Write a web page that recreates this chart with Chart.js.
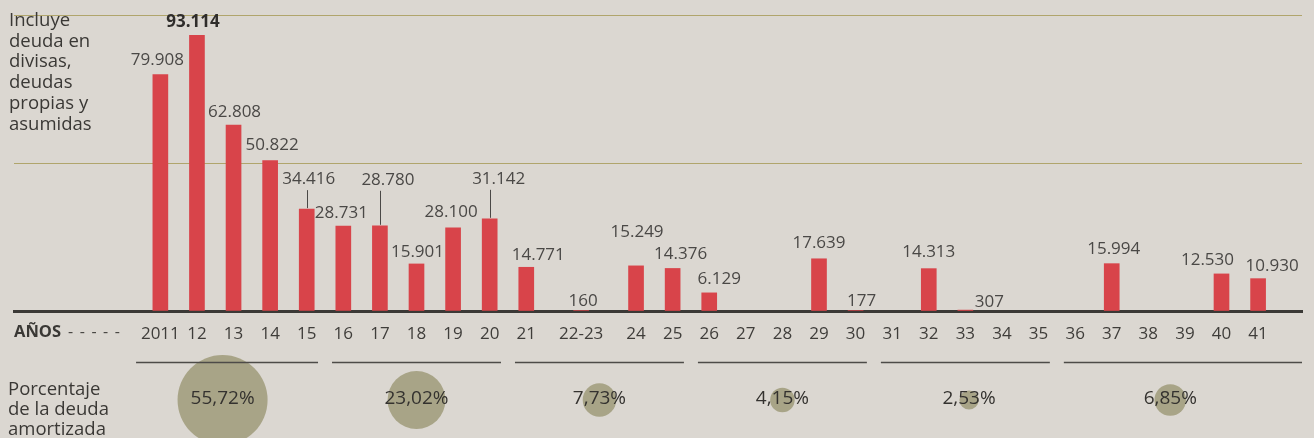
<!DOCTYPE html>
<html>
<head>
<meta charset="utf-8">
<script src="https://cdn.jsdelivr.net/npm/chart.js@4"></script>
<style>
  html, body { margin:0; padding:0; width:1314px; height:438px; overflow:hidden; background:#dbd7d1; }
  #wrap { position:relative; width:1314px; height:438px; overflow:hidden; }
  canvas { position:absolute; left:0; }
  #cBars { top:0; }
  #cBubbles { top:350px; }
  .note { position:absolute; font-family:'Open Sans', 'Noto Sans', sans-serif; color:#3a3835; white-space:nowrap; }
  #noteTop { left:9px; top:9px; font-size:18.5px; line-height:20.7px; }
  #noteBottom { left:8px; top:378px; font-size:18.5px; line-height:20px; }
  #anos { left:14px; top:321px; font-size:16.5px; font-weight:700; line-height:20px; }
  #dashes { left:68px; top:321px; font-size:16px; line-height:20px; letter-spacing:1.2px; color:#4a4845; }
</style>
</head>
<body>
<div id="wrap">
  <canvas id="cBars" width="1314" height="352"></canvas>
  <canvas id="cBubbles" width="1314" height="100"></canvas>
  <div class="note" id="noteTop">Incluye<br>deuda en<br>divisas,<br>deudas<br>propias y<br>asumidas</div>
  <div class="note" id="anos">AÑOS</div>
  <div class="note" id="dashes">- - - - -</div>
  <div class="note" id="noteBottom">Porcentaje<br>de la deuda<br>amortizada</div>
</div>
<script>
// ---- data ----
const tickYears = [2011,2012,2013,2014,2015,2016,2017,2018,2019,2020,2021,2022.5,2024,2025,2026,2027,2028,2029,2030,2031,2032,2033,2034,2035,2036,2037,2038,2039,2040,2041];
const tickLabels = ['2011','12','13','14','15','16','17','18','19','20','21','22-23','24','25','26','27','28','29','30','31','32','33','34','35','36','37','38','39','40','41'];
const debtValues = [79908,93114,62808,50822,34416,28731,28780,15901,28100,31142,14771,160,15249,14376,6129,null,null,17639,177,null,14313,307,null,null,null,15994,null,null,12530,10930];
const highlightIndex = 1;

const groupFrom = [2011,2016,2021,2026,2031,2036];
const groupTo   = [2015,2020,2025,2030,2035,2041];
const groupPct  = [55.72,23.02,7.73,4.15,2.53,6.85];
const bubbleYear = [2012.7,2018,2023,2028,2033.1,2038.6];

// ---- layout (label nudges relative to bar top: dx, dy, leader line) ----
const labelNudge = [[-3,-14],[-4,-13],[1,-13],[2,-15],[2,-30,1],[-2,-13],[8,-46,1],[1,-12],[-2,-16],[9,-40,1],[12,-12],[2,-9],[1,-34],[8,-14],[10,-14],null,null,[0,-16],[6,-9],null,[0,-16],[24,-8],null,null,null,[2,-15],null,null,[-14,-14],[14,-12]];

const X_MIN = 2007, X_MAX = 2042.2;
const FONT = "'Open Sans', 'Noto Sans', sans-serif";

function fmt(n){ return String(n).replace(/\B(?=(\d{3})+(?!\d))/g, '.'); }

const barLabels = {
  id:'barLabels',
  afterDatasetsDraw(chart){
    const ctx = chart.ctx;
    const meta = chart.getDatasetMeta(0);
    ctx.save();
    ctx.textAlign = 'center';
    ctx.textBaseline = 'middle';
    debtValues.forEach((v,i)=>{
      if (v === null) return;
      const el = meta.data[i];
      const n = labelNudge[i] || [0,-14];
      const x = el.x + n[0], y = el.y + n[1];
      ctx.fillStyle = i === highlightIndex ? '#2f2d2b' : '#4a4846';
      ctx.font = (i === highlightIndex ? '700 ' : '400 ') + '17px ' + FONT;
      ctx.fillText(fmt(v), x, y);
      if (n[2]) {
        ctx.strokeStyle = '#4a4846';
        ctx.lineWidth = 1;
        ctx.beginPath();
        ctx.moveTo(Math.round(el.x)+0.5, y + 11);
        ctx.lineTo(Math.round(el.x)+0.5, el.y - 1);
        ctx.stroke();
      }
    });
    ctx.restore();
  }
};

new Chart(document.getElementById('cBars'), {
  type:'bar',
  data:{ datasets:[{
    data: tickYears.map((x,i)=>({x, y: debtValues[i]})),
    backgroundColor:'#d8444a',
    barThickness:15,
    borderWidth:0
  }]},
  options:{
    responsive:false, animation:false, devicePixelRatio:1,
    layout:{ autoPadding:false, padding:{ left:14, right:12, top:15, bottom:0 } },
    plugins:{ legend:{display:false}, tooltip:{enabled:false} },
    scales:{
      x:{
        type:'linear', min:X_MIN, max:X_MAX, offset:false, z:1,
        afterBuildTicks: s => { s.ticks = tickYears.map(v=>({value:v})); },
        afterFit: s => { s.height = 41; },
        ticks:{ autoSkip:false, maxRotation:0, minRotation:0, padding:13,
          callback:(v,i)=>tickLabels[i], color:'#3f3d3a', font:{ family:FONT, size:17 } },
        grid:{ display:false, drawTicks:false, offset:false },
        border:{ display:true, color:'#3b3936', width:3 }
      },
      y:{
        min:0, max:100000,
        afterFit: s => { s.width = 0; },
        ticks:{ display:false, stepSize:50000 },
        grid:{ drawTicks:false,
          color: c => c.tick && c.tick.value === 0 ? 'rgba(0,0,0,0)' : '#b0a56c',
          lineWidth: 1 },
        border:{ display:false }
      }
    }
  },
  plugins:[barLabels]
});

const groupDecor = {
  id:'groupDecor',
  afterDatasetsDraw(chart){
    const ctx = chart.ctx, xs = chart.scales.x;
    const meta = chart.getDatasetMeta(0);
    ctx.save();
    ctx.strokeStyle = '#4d4b48';
    ctx.lineWidth = 1.5;
    groupFrom.forEach((f,i)=>{
      const last = i === groupFrom.length-1;
      const x1 = i === 0 ? xs.getPixelForValue(f-0.5) - 6 : xs.getPixelForValue(f-0.5) + 7;
      const x2 = last ? chart.chartArea.right : xs.getPixelForValue(groupTo[i]+0.5) - 7;
      ctx.beginPath();
      ctx.moveTo(x1, 12.5);
      ctx.lineTo(x2, 12.5);
      ctx.stroke();
    });
    ctx.fillStyle = '#34322f';
    ctx.textAlign = 'center';
    ctx.textBaseline = 'middle';
    ctx.font = "400 19px " + FONT;
    groupPct.forEach((p,i)=>{
      const el = meta.data[i];
      ctx.fillText(p.toFixed(2).replace('.', ',') + '%', el.x, el.y - 1);
    });
    ctx.restore();
  }
};

new Chart(document.getElementById('cBubbles'), {
  type:'bubble',
  data:{ datasets:[{
    data: bubbleYear.map((x,i)=>({x, y:0, r: 6.03*Math.sqrt(groupPct[i])})),
    backgroundColor:'#a8a487',
    borderWidth:0,
    clip:false
  }]},
  options:{
    responsive:false, animation:false, devicePixelRatio:1,
    layout:{ autoPadding:false, padding:{ left:14, right:12, top:0, bottom:0 } },
    plugins:{ legend:{display:false}, tooltip:{enabled:false} },
    scales:{
      x:{ type:'linear', min:X_MIN, max:X_MAX, display:false, offset:false },
      y:{ min:-1, max:1, display:false }
    }
  },
  plugins:[groupDecor]
});
</script>
</body>
</html>
